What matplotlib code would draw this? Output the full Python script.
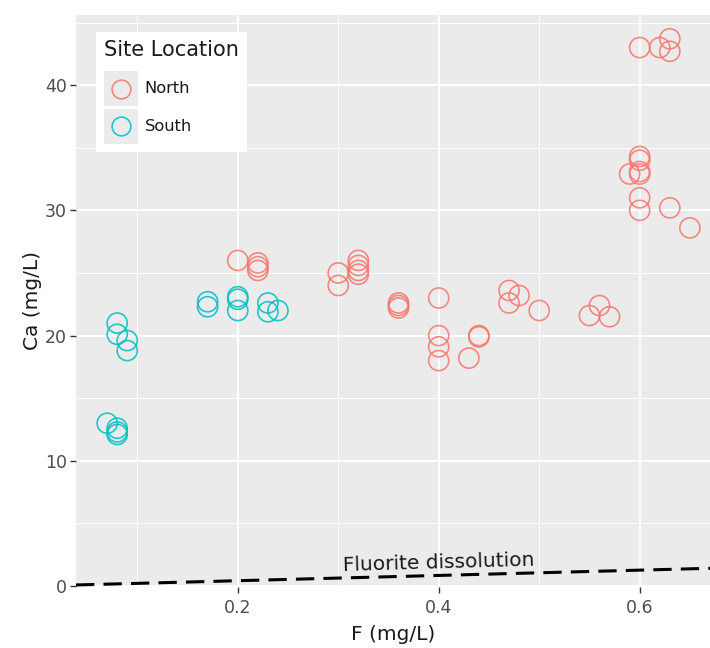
import numpy as np
import matplotlib
matplotlib.use("Agg")
import matplotlib.pyplot as plt
from matplotlib.legend_handler import HandlerBase
from matplotlib.patches import Rectangle
from matplotlib.lines import Line2D

plt.rcParams['font.family'] = ['DejaVu Sans']

# Fluoride (F) and calcium (Ca) concentrations, mg/L
north_f = [0.20, 0.22, 0.22, 0.22, 0.30, 0.30, 0.32, 0.32, 0.32, 0.32,
           0.36, 0.36, 0.36, 0.40, 0.40, 0.40, 0.40, 0.43, 0.44, 0.44,
           0.47, 0.47, 0.48, 0.50, 0.55, 0.56, 0.57,
           0.59, 0.60, 0.60, 0.60, 0.60, 0.60, 0.60, 0.63, 0.65,
           0.60, 0.62, 0.63, 0.63]
north_ca = [26.0, 25.8, 25.5, 25.2, 25.0, 24.0, 26.0, 25.6, 25.2, 24.9,
            22.6, 22.4, 22.2, 23.0, 20.0, 19.1, 18.0, 18.2, 19.9, 20.0,
            23.6, 22.6, 23.2, 22.0, 21.6, 22.4, 21.5,
            32.9, 34.3, 34.0, 33.1, 32.9, 31.0, 30.0, 30.2, 28.6,
            43.0, 43.0, 43.7, 42.7]

south_f = [0.08, 0.08, 0.09, 0.09, 0.07, 0.08, 0.08, 0.08,
           0.17, 0.17, 0.20, 0.20, 0.20, 0.23, 0.23, 0.24]
south_ca = [21.0, 20.1, 19.6, 18.8, 13.0, 12.6, 12.3, 12.1,
            22.7, 22.3, 23.1, 22.9, 22.0, 22.6, 21.9, 22.0]

# Stoichiometric Ca:F mass ratio for fluorite dissolution
fluorite_ratio = 2.11
line_f = [0.039, 0.67]

site_labels = ["North", "South"]
site_colors = ["#F8766D", "#00BFC4"]

W, H = 710, 648
fig = plt.figure(figsize=(W / 100, H / 100), dpi=100)
ax = fig.add_axes([76 / W, 1 - 587 / H, 1 - 76 / W, (587 - 15) / H])
ax.set_facecolor("#EBEBEB")

ax.set_xlim(0.039, 0.67)
ax.set_ylim(-0.08, 45.6)
ax.set_xticks([0.2, 0.4, 0.6])
ax.set_xticklabels(["0.2", "0.4", "0.6"])
ax.set_yticks([0, 10, 20, 30, 40])
ax.set_xticks([0.1, 0.3, 0.5], minor=True)
ax.set_yticks([5, 15, 25, 35, 45], minor=True)
ax.grid(which="major", color="white", linewidth=1.4)
ax.grid(which="minor", color="white", linewidth=0.7)
ax.set_axisbelow(True)
for s in ax.spines.values():
    s.set_visible(False)
ax.tick_params(which="major", length=4, width=1.0, color="#333333",
               labelcolor="#4D4D4D", labelsize=12.5)
ax.tick_params(axis="x", which="major", pad=4.5)
ax.tick_params(axis="y", which="major", pad=2.5)
ax.tick_params(which="minor", length=0)

ms = 210
lw = 1.2
ax.scatter(north_f, north_ca, s=ms, facecolors="none", edgecolors=site_colors[0],
           linewidths=lw, alpha=0.85, zorder=3)
ax.scatter(south_f, south_ca, s=ms, facecolors="none", edgecolors=site_colors[1],
           linewidths=lw, alpha=0.85, zorder=3)

line_ca = [fluorite_ratio * f for f in line_f]
ax.plot(line_f, line_ca, color="black", linestyle=(0, (6, 3)), linewidth=2.2,
        zorder=4)
ax.text(0.40, 1.85, "Fluorite dissolution", fontsize=14.5, color="#1A1A1A",
        rotation=1.6, ha="center", va="center", rotation_mode="anchor", zorder=5)

ax.set_xlabel("F (mg/L)", fontsize=14.5, color="#1A1A1A", labelpad=6)
ax.set_ylabel("Ca (mg/L)", fontsize=14.5, color="#1A1A1A", labelpad=2)


class KeyHandler(HandlerBase):
    def create_artists(self, legend, orig_handle, xdescent, ydescent,
                       width, height, fontsize, trans):
        bg = Rectangle((-xdescent, -ydescent), width, height,
                       facecolor="#EBEBEB", edgecolor="none", transform=trans)
        mk = Line2D([-xdescent + width / 2], [-ydescent + height / 2],
                    marker="o", markersize=13.5, markerfacecolor="none",
                    markeredgecolor=orig_handle.get_markeredgecolor(),
                    markeredgewidth=1.2, alpha=0.85, linestyle="none",
                    transform=trans)
        return [bg, mk]


handles = [Line2D([], [], marker="o", markeredgecolor=c, markerfacecolor="none",
                  linestyle="none") for c in site_colors]
leg = ax.legend(handles, site_labels, title="Site Location",
                handler_map={Line2D: KeyHandler()},
                loc="upper left", bbox_to_anchor=(96 / W, 1 - 32 / H),
                bbox_transform=fig.transFigure,
                fontsize=11.7, title_fontsize=15,
                handlelength=2.1, handleheight=2.9, handletextpad=0.4,
                labelspacing=0.2, borderpad=0.5, borderaxespad=0,
                frameon=True, fancybox=False, alignment="left")
# extra space between the legend title and the keys
leg._legend_box.sep = 8
leg.get_frame().set_facecolor("white")
leg.get_frame().set_edgecolor("none")
leg.get_frame().set_alpha(1.0)
leg.get_title().set_color("#1A1A1A")
for t in leg.get_texts():
    t.set_color("#1A1A1A")

fig.savefig("out.png", dpi=100)
